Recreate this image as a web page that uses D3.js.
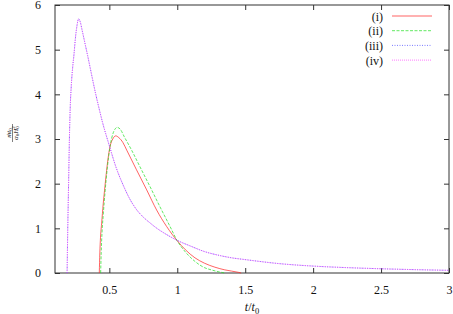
<!DOCTYPE html>
<html>
<head>
<meta charset="utf-8">
<script src="https://cdn.jsdelivr.net/npm/d3@7"></script>
<style>
  body { margin: 0; background: #fff; }
  svg text { font-family: "Liberation Serif", "DejaVu Serif", serif; fill: #111; }
</style>
</head>
<body>
<svg id="chart" width="453" height="314"></svg>
<script>
"use strict";

// values: [t/t0, value]
const seriesI = [
    [0.426, 0], [0.43, 0.45], [0.435, 0.8], [0.443, 1.1], [0.455, 1.55], [0.468, 1.95],
    [0.48, 2.3], [0.49, 2.55], [0.505, 2.83], [0.525, 3.0], [0.547, 3.07], [0.57, 3.03],
    [0.6, 2.92], [0.628, 2.75], [0.7, 2.31], [0.775, 1.86], [0.848, 1.41], [0.922, 1.04],
    [1.0, 0.72], [1.06, 0.52], [1.13, 0.34], [1.2, 0.22], [1.277, 0.13], [1.35, 0.07],
    [1.45, 0.015], [1.47, 0]
];
const seriesII = [
    [0.436, 0], [0.44, 0.45], [0.446, 0.9], [0.455, 1.3], [0.468, 1.8], [0.485, 2.35],
    [0.505, 2.83], [0.53, 3.15], [0.558, 3.26], [0.58, 3.22], [0.61, 3.05], [0.664, 2.75],
    [0.725, 2.38], [0.8, 1.93], [0.873, 1.48], [0.947, 1.04], [1.0, 0.72], [1.06, 0.47],
    [1.13, 0.26], [1.2, 0.12], [1.25, 0.07], [1.3, 0.03], [1.35, 0]
];
const seriesIII = [
    [0.189, 0], [0.194, 1.0], [0.2, 2.0], [0.206, 3.0], [0.212, 3.7], [0.22, 4.2],
    [0.23, 4.6], [0.24, 4.9], [0.25, 5.25], [0.26, 5.5], [0.274, 5.69], [0.285, 5.63],
    [0.3, 5.43], [0.32, 5.15], [0.34, 4.87], [0.37, 4.43], [0.4, 4.0], [0.42, 3.74],
    [0.45, 3.37], [0.5, 2.85], [0.55, 2.36], [0.6, 1.98], [0.65, 1.66], [0.7, 1.42],
    [0.75, 1.25], [0.8, 1.12], [0.85, 1.0], [0.9, 0.9], [0.95, 0.81], [1.0, 0.73],
    [1.1, 0.6], [1.2, 0.48], [1.3, 0.4], [1.4, 0.34], [1.5, 0.3], [1.75, 0.21],
    [2.0, 0.155], [2.25, 0.12], [2.5, 0.095], [2.75, 0.075], [3.0, 0.06]
];
const seriesIV = [
    [0.189, 0], [0.194, 1.0], [0.2, 2.0], [0.206, 3.0], [0.212, 3.7], [0.22, 4.2],
    [0.23, 4.6], [0.24, 4.9], [0.25, 5.25], [0.26, 5.5], [0.274, 5.69], [0.285, 5.63],
    [0.3, 5.43], [0.32, 5.15], [0.34, 4.87], [0.37, 4.43], [0.4, 4.0], [0.42, 3.74],
    [0.45, 3.37], [0.5, 2.85], [0.55, 2.36], [0.6, 1.98], [0.65, 1.66], [0.7, 1.42],
    [0.75, 1.25], [0.8, 1.12], [0.85, 1.0], [0.9, 0.9], [0.95, 0.81], [1.0, 0.73],
    [1.1, 0.6], [1.2, 0.48], [1.3, 0.4], [1.4, 0.34], [1.5, 0.3], [1.75, 0.21],
    [2.0, 0.155], [2.25, 0.12], [2.5, 0.095], [2.75, 0.075], [3.0, 0.06]
];
const seriesNames = ["(i)", "(ii)", "(iii)", "(iv)"];
const xTicks = [0.5, 1, 1.5, 2, 2.5, 3];
const yTicks = [0, 1, 2, 3, 4, 5, 6];
const xDomain = [0.1, 3];
const yDomain = [0, 6];

const width = 453, height = 314;
const margin = {top: 5, right: 4, bottom: 41, left: 55};
const innerW = width - margin.left - margin.right;
const innerH = height - margin.top - margin.bottom;

const styles = [
    {color: "#ff2020", dash: null, width: 0.7},
    {color: "#20e020", dash: "3,1.5", width: 0.7},
    {color: "#4040ff", dash: "1,1.5", width: 0.7},
    {color: "#ff40ff", dash: "1,1", width: 0.7}
];

const svg = d3.select("#chart");
const g = svg.append("g").attr("transform", `translate(${margin.left},${margin.top})`);

const x = d3.scaleLinear().domain(xDomain).range([0, innerW]);
const y = d3.scaleLinear().domain(yDomain).range([innerH, 0]);

// axes with inward ticks on all four sides
const fmt = d3.format("");
const axisB = g.append("g").attr("transform", `translate(0,${innerH})`)
    .call(d3.axisBottom(x).tickValues(xTicks).tickFormat(fmt).tickSizeInner(-5).tickSizeOuter(0).tickPadding(12));
const axisL = g.append("g")
    .call(d3.axisLeft(y).tickValues(yTicks).tickFormat(fmt).tickSizeInner(-5).tickSizeOuter(0).tickPadding(14));
const axisT = g.append("g")
    .call(d3.axisTop(x).tickValues(xTicks).tickFormat("").tickSizeInner(-5).tickSizeOuter(0));
const axisR = g.append("g").attr("transform", `translate(${innerW},0)`)
    .call(d3.axisRight(y).tickValues(yTicks).tickFormat("").tickSizeInner(-5).tickSizeOuter(0));

[axisB, axisL, axisT, axisR].forEach(a => {
    a.select(".domain").remove();
    a.selectAll(".tick line").attr("stroke", "#333");
    a.selectAll("text")
        .attr("font-size", 12)
        .attr("font-family", "Liberation Serif")
        .attr("fill", "#111");
});

g.append("rect")
    .attr("width", innerW).attr("height", innerH)
    .attr("fill", "none").attr("stroke", "#333").attr("stroke-width", 1);

// curves
const line = d3.line()
    .x(d => x(d[0]))
    .y(d => y(d[1]))
    .curve(d3.curveMonotoneX);

const allSeries = [seriesI, seriesII, seriesIII, seriesIV];
allSeries.forEach((s, i) => {
    g.append("path")
        .datum(s)
        .attr("fill", "none")
        .attr("stroke", styles[i].color)
        .attr("stroke-width", styles[i].width)
        .attr("stroke-dasharray", styles[i].dash)
        .attr("d", line);
});

// legend
const legend = svg.append("g").attr("transform", "translate(383,16)");
seriesNames.forEach((name, i) => {
    const row = legend.append("g").attr("transform", `translate(0,${i * 14.7})`);
    row.append("text")
        .attr("x", 0).attr("y", 4.5)
        .attr("text-anchor", "end")
        .attr("font-size", 12)
        .text(name);
    row.append("line")
        .attr("x1", 9).attr("x2", 49)
        .attr("stroke", styles[i].color)
        .attr("stroke-width", styles[i].width)
        .attr("stroke-dasharray", styles[i].dash);
});

// x label: t / t0
const xl = svg.append("text")
    .attr("x", margin.left + innerW / 2)
    .attr("y", 311)
    .attr("text-anchor", "middle")
    .attr("font-size", 12);
xl.append("tspan").attr("font-style", "italic").text("t");
xl.append("tspan").text("/");
xl.append("tspan").attr("font-style", "italic").text("t");
xl.append("tspan").attr("font-size", 8.5).attr("dy", 2.5).text("0");

// y label: rotated fraction
const yl = svg.append("g").attr("transform", "translate(12.5,133) rotate(-90)");
const num = yl.append("text").attr("x", 0).attr("y", -1.8)
    .attr("text-anchor", "middle").attr("font-size", 7);
num.append("tspan").attr("font-style", "italic").text("ṁt");
num.append("tspan").attr("font-size", 5).attr("dy", 1.2).text("0");
yl.append("line").attr("x1", -9).attr("x2", 9).attr("stroke", "#000").attr("stroke-width", 0.5);
const den = yl.append("text").attr("x", 0).attr("y", 5.5)
    .attr("text-anchor", "middle").attr("font-size", 7);
den.append("tspan").attr("font-style", "italic").text("α");
den.append("tspan").attr("font-size", 5).attr("dy", 1.2).text("0");
den.append("tspan").attr("font-style", "italic").attr("dy", -1.2).text("H");
den.append("tspan").attr("font-size", 5).attr("dy", 1.2).text("0");
den.append("tspan").attr("font-size", 5).attr("dx", -2.5).attr("dy", -4).text("2");
</script>
</body>
</html>
